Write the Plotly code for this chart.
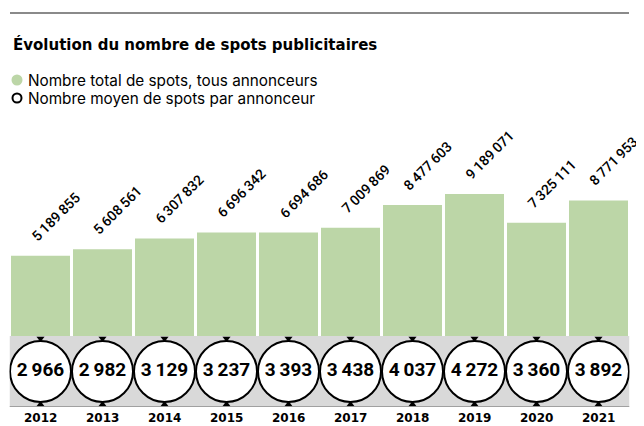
import plotly.graph_objects as go

years = ["2012", "2013", "2014", "2015", "2016", "2017", "2018", "2019", "2020", "2021"]
total_spots = [5189855, 5608561, 6307832, 6696342, 6694686, 7009869, 8477603, 9189071, 7325111, 8771953]
mean_spots = [2966, 2982, 3129, 3237, 3393, 3438, 4037, 4272, 3360, 3892]

# page body has an 8px margin, so the figure is drawn 8px in and 8px down
OFF = 8
W, H = 644 - OFF, 426 - OFF
GREEN = "#bcd6a7"
BAND = "#d9d9d9"


def fmt(v):
    return f"{v:,}".replace(",", "\u2009")


def px(x):
    # window pixel -> paper fraction
    return (x - OFF) / W


def py(y):
    return 1 - (y - OFF) / H


idx = list(range(len(years)))

fig = go.Figure()

# bars
fig.add_trace(go.Bar(x=years, y=total_spots, marker=dict(color=GREEN, line=dict(width=0)),
                     xaxis="x", yaxis="y", hoverinfo="skip"))

# circles with mean spots
fig.add_trace(go.Scatter(x=years, y=[0.5] * len(years), mode="markers+text",
                         marker=dict(size=61, color="white", line=dict(color="black", width=2)),
                         text=[fmt(v) for v in mean_spots], textposition="middle center",
                         textfont=dict(family="Roboto, sans-serif", size=19, color="black", weight="bold"),
                         xaxis="x", yaxis="y2", hoverinfo="skip"))
# little arrows above / below circles
fig.add_trace(go.Scatter(x=years, y=[0.965] * len(years), mode="markers",
                         marker=dict(symbol="triangle-down", size=7, color="black"),
                         xaxis="x", yaxis="y2", hoverinfo="skip"))
fig.add_trace(go.Scatter(x=years, y=[0.035] * len(years), mode="markers",
                         marker=dict(symbol="triangle-up", size=7, color="black"),
                         xaxis="x", yaxis="y2", hoverinfo="skip"))

# band behind the circles
fig.add_shape(type="rect", xref="x", yref="y2", x0=-0.5, x1=9.5, y0=0, y1=1,
              fillcolor=BAND, line=dict(width=0), layer="below")
fig.add_shape(type="line", xref="x", yref="y2", x0=-0.5, x1=9.5, y0=0, y1=0,
              line=dict(color="#8c8c8c", width=1.5))

# rotated value labels
for i, v in zip(idx, total_spots):
    fig.add_annotation(x=i, y=v, xref="x", yref="y", text=fmt(v), textangle=-45,
                       showarrow=False, xanchor="left", yanchor="bottom", xshift=-15, yshift=9,
                       font=dict(family="Roboto, sans-serif", size=14, color="black", weight=500))

# year labels
for i, yr in zip(idx, years):
    fig.add_annotation(x=i, y=py(418), xref="x", yref="paper", yanchor="middle", text=yr, showarrow=False,
                       font=dict(family="DejaVu Sans, sans-serif", size=12, color="black", weight="bold"))

# top rule
fig.add_shape(type="line", xref="paper", yref="paper", x0=px(10), x1=px(629), y0=py(13), y1=py(13),
              line=dict(color="#8a8a8a", width=2))

# title
fig.add_annotation(x=px(11), y=py(44), xref="paper", yref="paper", xanchor="left", yanchor="middle",
                   text="Évolution du nombre de spots publicitaires", showarrow=False,
                   font=dict(family="DejaVu Sans, sans-serif", size=15, color="black", weight="bold"))

# legend
fig.add_shape(type="circle", xref="paper", yref="paper", xsizemode="pixel", ysizemode="pixel",
              xanchor=px(17), yanchor=py(80), x0=-5.5, x1=5.5, y0=-5.5, y1=5.5,
              fillcolor=GREEN, line=dict(width=0))
fig.add_shape(type="circle", xref="paper", yref="paper", xsizemode="pixel", ysizemode="pixel",
              xanchor=px(17), yanchor=py(98), x0=-4.5, x1=4.5, y0=-4.5, y1=4.5,
              fillcolor="white", line=dict(color="black", width=2))
fig.add_annotation(x=px(26), y=py(80), xref="paper", yref="paper", xanchor="left", yanchor="middle",
                   text="Nombre total de spots, tous annonceurs", showarrow=False,
                   font=dict(family="Inter, sans-serif", size=15.3, color="black"))
fig.add_annotation(x=px(26), y=py(98), xref="paper", yref="paper", xanchor="left", yanchor="middle",
                   text="Nombre moyen de spots par annonceur", showarrow=False,
                   font=dict(family="Inter, sans-serif", size=15.3, color="black"))

fig.update_layout(
    width=W, height=H,
    margin=dict(l=0, r=0, t=0, b=0),
    paper_bgcolor="white", plot_bgcolor="rgba(0,0,0,0)",
    showlegend=False, bargap=3 / 62,
    xaxis=dict(type="category", domain=[px(9.5), px(629.5)], anchor="y2", range=[-0.5, 9.5],
               showticklabels=False, showgrid=False, zeroline=False, showline=False, fixedrange=True),
    yaxis=dict(domain=[py(336), 1], range=[0, (336 - OFF) / 15.45 * 1e6], visible=False, fixedrange=True),
    yaxis2=dict(domain=[py(407), py(336)], range=[0, 1], visible=False, fixedrange=True),
)

fig.write_html("out.html")
